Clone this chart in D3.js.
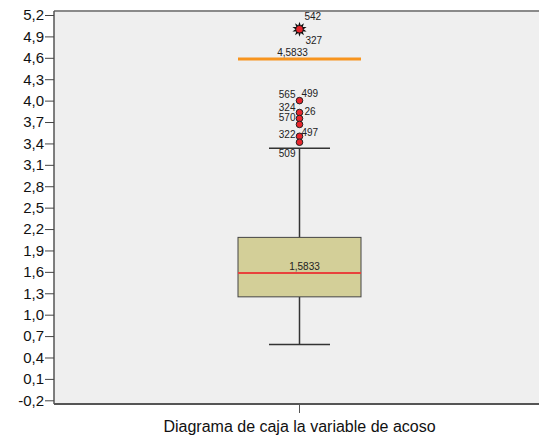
<!DOCTYPE html>
<html><head><meta charset="utf-8">
<script src="https://cdn.jsdelivr.net/npm/d3@7"></script>
<style>html,body{margin:0;padding:0;background:#fff;overflow:hidden}svg{display:block}text{font-family:Arial,"Liberation Sans",sans-serif}</style>
</head><body><svg id="c" width="539" height="435"></svg>
<script>
const category = ["Diagrama de caja la variable de acoso"];
const boxStats = {min: 0.5833, q1: 1.25, median: 1.5833, q3: 2.0833, max: 3.3333};
const outlierValues = [4.0, 3.8333, 3.75, 3.6667, 3.5, 3.4167];
const outlierLabels = [["565","499"],["324","26"],["570",""],["",""],["322","497"],["509",""]];
const extremeValues = [5.0];
const extremeLabels = [["542","327"]];
const refLineValue = 4.5833;
const refLineLabel = "4,5833";
const yTicks = [-0.2,0.1,0.4,0.7,1.0,1.3,1.6,1.9,2.2,2.5,2.8,3.1,3.4,3.7,4.0,4.3,4.6,4.9,5.2];

const svg = d3.select("#c");
const L = 54, T = 11, R = 539, B = 404;
const y = d3.scaleLinear().domain([-0.2, 5.2]).range([400.3, 15]);
const x = d3.scaleBand().domain(category).range([L, 545]);
const fmt = v => d3.format(".1f")(v).replace(".", ",").replace("−","-");
const fmt4 = v => d3.format(".4f")(v).replace(".", ",");

svg.append("rect").attr("x", L).attr("y", T).attr("width", R - L).attr("height", B - T).attr("fill", "#efefef");
svg.append("line").attr("x1", L).attr("x2", R).attr("y1", T).attr("y2", T).attr("stroke", "#8a8a8a").attr("stroke-width", 2);

const yAxis = svg.append("g").attr("transform", `translate(${L},0)`)
  .call(d3.axisLeft(y).tickValues(yTicks).tickFormat(fmt).tickSize(9).tickPadding(1).tickSizeOuter(0));
yAxis.select(".domain").attr("stroke", "#555").attr("d", `M0,${T}V${B}`).attr("stroke-width", 1.5);
yAxis.selectAll(".tick line").attr("stroke", "#444");
yAxis.selectAll("text").attr("font-size", 15).attr("fill", "#111");

const xAxis = svg.append("g").attr("transform", `translate(0,${B})`)
  .call(d3.axisBottom(x).tickSize(9).tickPadding(4).tickSizeOuter(0));
xAxis.select(".domain").attr("stroke", "#555").attr("stroke-width", 2).attr("d", `M${L},0H${R}`);
xAxis.selectAll(".tick line").attr("stroke", "#555");
xAxis.selectAll("text").attr("font-size", 16).attr("fill", "#111").attr("y", 27.5).attr("dy", 0);

const cx = x(category[0]) + x.bandwidth() / 2;
const bw = 123, cw = 61;

svg.append("line").attr("x1", cx).attr("x2", cx).attr("y1", y(boxStats.max)).attr("y2", y(boxStats.q3)).attr("stroke", "#333").attr("stroke-width", 1.5);
svg.append("line").attr("x1", cx).attr("x2", cx).attr("y1", y(boxStats.q1)).attr("y2", y(boxStats.min)).attr("stroke", "#333").attr("stroke-width", 1.5);
[boxStats.max, boxStats.min].forEach(v => svg.append("line").attr("x1", cx - cw/2).attr("x2", cx + cw/2).attr("y1", y(v)).attr("y2", y(v)).attr("stroke", "#333").attr("stroke-width", 1.5));

svg.append("rect").attr("x", cx - bw/2).attr("y", y(boxStats.q3)).attr("width", bw).attr("height", y(boxStats.q1) - y(boxStats.q3))
  .attr("fill", "#d3cf98").attr("stroke", "#444").attr("stroke-width", 1);
svg.append("line").attr("x1", cx - bw/2).attr("x2", cx + bw/2).attr("y1", y(boxStats.median)).attr("y2", y(boxStats.median)).attr("stroke", "#e8423c").attr("stroke-width", 2);
svg.append("text").attr("x", cx + 5).attr("y", y(boxStats.median) - 3).attr("text-anchor", "middle").attr("font-size", 10).attr("fill", "#222").text(fmt4(boxStats.median));

svg.append("line").attr("x1", cx - bw/2).attr("x2", cx + bw/2).attr("y1", y(refLineValue)).attr("y2", y(refLineValue)).attr("stroke", "#f7941e").attr("stroke-width", 3);
svg.append("text").attr("x", cx - 7).attr("y", y(refLineValue) - 3).attr("text-anchor", "middle").attr("font-size", 10).attr("fill", "#222").text(refLineLabel);

outlierValues.forEach((v, i) => {
  svg.append("circle").attr("cx", cx).attr("cy", y(v)).attr("r", 3.3).attr("fill", "#e8262c").attr("stroke", "#222").attr("stroke-width", 1);
});
const lblOff = [[-4,-6,  2,-7],[-4,-5, 5,-1],[-4,-1,0,0],[0,0,0,0],[-4,-2, 2,-4],[-4,11,0,0]];
outlierValues.forEach((v, i) => {
  const [l, r] = outlierLabels[i];
  const o = lblOff[i];
  if (l) svg.append("text").attr("x", cx + o[0]).attr("y", y(v) + o[1] + 3.5).attr("text-anchor", "end").attr("font-size", 10).attr("fill", "#222").text(l);
  if (r) svg.append("text").attr("x", cx + o[2]).attr("y", y(v) + o[3] + 3.5).attr("text-anchor", "start").attr("font-size", 10).attr("fill", "#222").text(r);
});

extremeValues.forEach((v, i) => {
  const g = svg.append("g").attr("transform", `translate(${cx},${y(v)})`);
  const pts = [];
  const n = 10;
  for (let k = 0; k < n * 2; k++) {
    const a = Math.PI * k / n;
    const rr = k % 2 === 0 ? 7.5 : 4;
    pts.push([rr * Math.sin(a), -rr * Math.cos(a)]);
  }
  g.append("polygon").attr("points", pts.map(p => p.join(",")).join(" ")).attr("fill", "#111");
  g.append("circle").attr("r", 3.2).attr("fill", "#e8262c");
  svg.append("text").attr("x", cx + 5).attr("y", y(v) - 9).attr("font-size", 10).attr("fill", "#222").text(extremeLabels[i][0]);
  svg.append("text").attr("x", cx + 6).attr("y", y(v) + 15).attr("font-size", 10).attr("fill", "#222").text(extremeLabels[i][1]);
});

// keep the right edge of the plot area open (no border there)
svg.append("rect").attr("x", R - 3).attr("y", T + 1).attr("width", 3).attr("height", B - T - 2).attr("fill", "#efefef");
</script></body></html>
